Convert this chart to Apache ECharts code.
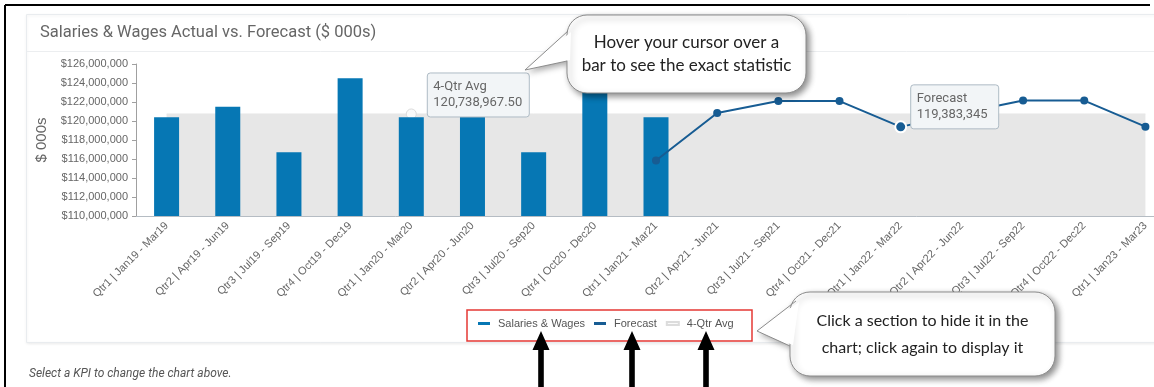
<!DOCTYPE html>
<html>
<head>
<meta charset="utf-8">
<script src="https://cdn.jsdelivr.net/npm/echarts@6/dist/echarts.min.js"></script>
<style>
  html, body { margin: 0; padding: 0; background: #fff; overflow: hidden; }
  #chart { width: 1200px; height: 387px; }
</style>
</head>
<body>
<div id="chart"></div>
<script>
// quarters on the x axis
const categories = [
  'Qtr1 | Jan19 - Mar19', 'Qtr2 | Apr19 - Jun19', 'Qtr3 | Jul19 - Sep19', 'Qtr4 | Oct19 - Dec19',
  'Qtr1 | Jan20 - Mar20', 'Qtr2 | Apr20 - Jun20', 'Qtr3 | Jul20 - Sep20', 'Qtr4 | Oct20 - Dec20',
  'Qtr1 | Jan21 - Mar21', 'Qtr2 | Apr21 - Jun21', 'Qtr3 | Jul21 - Sep21', 'Qtr4 | Oct21 - Dec21',
  'Qtr1 | Jan22 - Mar22', 'Qtr2 | Apr22 - Jun22', 'Qtr3 | Jul22 - Sep22', 'Qtr4 | Oct22 - Dec22',
  'Qtr1 | Jan23 - Mar23'
];
// actual salaries & wages (bars)
const actual = [
  120400000, 121500000, 116700000, 124500000,
  120400000, 121500000, 116700000, 124500000,
  120400000, null, null, null, null, null, null, null, null
];
// forecast (line)
const forecast = [
  null, null, null, null, null, null, null, null,
  115850000, 120850000, 122100000, 122100000,
  119383345, 120850000, 122150000, 122150000, 119400000
];
const avgValue = 120738967.50;
const avg = categories.map(() => avgValue);

const yMin = 110000000, yMax = 126000000, yStep = 2000000;

const hoverAvgIdx = 4;      // point under the "4-Qtr Avg" tooltip
const hoverFcIdx = 12;      // point under the "Forecast" tooltip

const barBlue = '#0677b4';
const fcBlue = '#175c93';
const avgGray = '#e7e7e7';
const axisFont = 'Liberation Sans, Arial, sans-serif';

function money(v) {
  return '$' + Math.round(v).toString().replace(/\B(?=(\d{3})+(?!\d))/g, ',');
}

let chart = echarts.init(document.getElementById('chart'));
chart.setOption({
  animation: false,
  title: {
    text: 'Salaries & Wages Actual vs. Forecast ($ 000s)',
    left: 40, top: 24, padding: 0,
    textStyle: { fontFamily: 'Roboto', fontSize: 16.5, fontWeight: 'normal', color: '#666' }
  },
  legend: {
    data: ['Salaries & Wages', 'Forecast', '4-Qtr Avg'],
    left: 473, top: 313,
    icon: 'rect', itemWidth: 12, itemHeight: 3, itemGap: 9,
    textStyle: { fontFamily: axisFont, fontSize: 11, color: '#555', padding: [0, 0, 0, 3] }
  },
  grid: { left: 136, top: 64, width: 1040, height: 152 },
  xAxis: {
    type: 'category',
    data: categories,
    boundaryGap: true,
    axisLine: { lineStyle: { color: '#b5bcc3' } },
    axisTick: { length: 5, lineStyle: { color: '#ccd2d7' } },
    axisLabel: { rotate: 45, margin: 8, interval: 0, fontFamily: axisFont, fontSize: 11, color: '#666' }
  },
  yAxis: {
    type: 'value',
    min: yMin, max: yMax, interval: yStep,
    name: '$ 000s',
    nameLocation: 'middle', nameGap: 87,
    nameTextStyle: { fontFamily: axisFont, fontSize: 15, color: '#666' },
    axisLine: { show: true, lineStyle: { color: '#a0a0a0' } },
    axisTick: { show: true, length: 4, lineStyle: { color: '#a0a0a0' } },
    splitLine: { show: false },
    axisLabel: { margin: 8, fontFamily: axisFont, fontSize: 11, color: '#666', formatter: money }
  },
  series: [
    {
      name: '4-Qtr Avg',
      type: 'line',
      data: avg,
      color: avgGray,
      symbol: 'circle',
      symbolSize: (v, p) => p.dataIndex === hoverAvgIdx ? 10 : 0,
      itemStyle: { color: '#fafafa', borderColor: '#dcdcdc', borderWidth: 1 },
      lineStyle: { color: avgGray, width: 1 },
      areaStyle: { color: avgGray, opacity: 1, origin: 'start' },
      z: 1
    },
    {
      name: 'Salaries & Wages',
      type: 'bar',
      data: actual,
      color: barBlue,
      barWidth: 25,
      z: 2
    },
    {
      name: 'Forecast',
      type: 'line',
      data: forecast.map((v, i) => i === hoverFcIdx
        ? { value: v, symbolSize: 11, itemStyle: { borderColor: '#fff', borderWidth: 2 } }
        : v),
      color: fcBlue,
      symbol: 'circle',
      symbolSize: 8,
      lineStyle: { color: fcBlue, width: 2 },
      itemStyle: { color: fcBlue },
      z: 3
    }
  ]
});

// tooltip-like boxes anchored to the hovered points
const pA = chart.convertToPixel({ xAxisIndex: 0, yAxisIndex: 0 }, [categories[hoverAvgIdx], avgValue]);
const pF = chart.convertToPixel({ xAxisIndex: 0, yAxisIndex: 0 }, [categories[hoverFcIdx], forecast[hoverFcIdx]]);

function tip(x, y, w, title, val) {
  return [
    { type: 'rect', z: 100, shape: { x: x, y: y, width: w, height: 44, r: 3 },
      style: { fill: '#f2f5f7', stroke: '#aebbc5', lineWidth: 1 } },
    { type: 'text', z: 101, x: x + 6, y: y + 14, style: { text: title, fontFamily: 'Roboto', fontSize: 13, fill: '#666', verticalAlign: 'middle' } },
    { type: 'text', z: 101, x: x + 6, y: y + 30, style: { text: val, fontFamily: 'Roboto', fontSize: 13, fill: '#666', verticalAlign: 'middle' } }
  ];
}

function arrow(x) {
  return {
    type: 'polygon', z: 60,
    shape: { points: [[x, 331], [x + 8.5, 350], [x + 2.8, 350], [x + 2.8, 390], [x - 2.8, 390], [x - 2.8, 350], [x - 8.5, 350]] },
    style: { fill: '#000' }
  };
}

// speech bubble: rounded box + tail (tail fill covers the box border where they join)
function bubble(x, y, w, h, tail, lines, fontSize, lineGap) {
  const els = [
    { type: 'rect', z: 120, shape: { x: x, y: y, width: w, height: h, r: 20 },
      style: { fill: '#fff', stroke: '#8c8c8c', lineWidth: 1,
        shadowBlur: 6, shadowColor: 'rgba(0,0,0,0.45)', shadowOffsetX: 3, shadowOffsetY: 3 } },
    { type: 'polygon', z: 121, shape: { points: [[tail[0][0] + 3, tail[0][1] + 1], tail[1], [tail[2][0] + 3, tail[2][1] - 1]] },
      style: { fill: '#fff' } },
    { type: 'polyline', z: 122, shape: { points: tail }, style: { stroke: '#8c8c8c', lineWidth: 1, fill: null } },
    { type: 'polygon', z: 119, shape: { points: tail },
      style: { fill: '#fff', shadowBlur: 6, shadowColor: 'rgba(0,0,0,0.35)', shadowOffsetX: 2, shadowOffsetY: 3 } }
  ];
  const cy = y + h / 2 - (lines.length - 1) * lineGap / 2;
  lines.forEach((t, i) => els.push({
    type: 'text', z: 123, x: x + w / 2, y: cy + i * lineGap,
    style: { text: t, fontFamily: 'Lato, "Open Sans", sans-serif', fontSize: fontSize, fill: '#222', align: 'center', verticalAlign: 'middle' }
  }));
  return els;
}

chart.setOption({
  graphic: [
    // page frame and card
    { type: 'line', z: -5, shape: { x1: 5, y1: 5, x2: 1150, y2: 5 }, style: { stroke: '#000', lineWidth: 2 } },
    { type: 'line', z: -5, shape: { x1: 5, y1: 5, x2: 5, y2: 387 }, style: { stroke: '#000', lineWidth: 2 } },
    { type: 'rect', z: -10, shape: { x: 26.5, y: 14.5, width: 1180, height: 328 },
      style: { fill: '#fff', stroke: '#e9ecef', lineWidth: 1, shadowBlur: 3, shadowColor: 'rgba(0,0,0,0.08)', shadowOffsetY: 1 } },
    { type: 'line', z: -5, shape: { x1: 27, y1: 51.5, x2: 1200, y2: 51.5 }, style: { stroke: '#eceef0', lineWidth: 1 } },
    { type: 'text', x: 29, y: 374, style: { text: 'Select a KPI to change the chart above.', fontFamily: 'Roboto', fontStyle: 'italic', fontSize: 12, fill: '#555', verticalAlign: 'middle' } },

    ...tip(pA[0] + 16, pA[1] - 41, 102, '4-Qtr Avg', '120,738,967.50'),
    ...tip(pF[0] + 10, pF[1] - 42, 88, 'Forecast', '119,383,345'),

    ...bubble(567, 15, 239, 78, [[568, 31], [525, 70], [567, 61]],
      ['Hover your cursor over a', 'bar to see the exact statistic'], 17, 23),

    // legend highlight box
    { type: 'rect', z: 60, shape: { x: 467, y: 310, width: 285, height: 31 }, style: { fill: 'none', stroke: '#e53935', lineWidth: 1.5 } },
    arrow(541), arrow(632), arrow(706),

    ...bubble(790, 292, 265, 84, [[796, 301], [757, 331], [790, 346]],
      ['Click a section to hide it in the', 'chart; click again to display it'], 16, 27)
  ]
});
</script>
</body>
</html>
